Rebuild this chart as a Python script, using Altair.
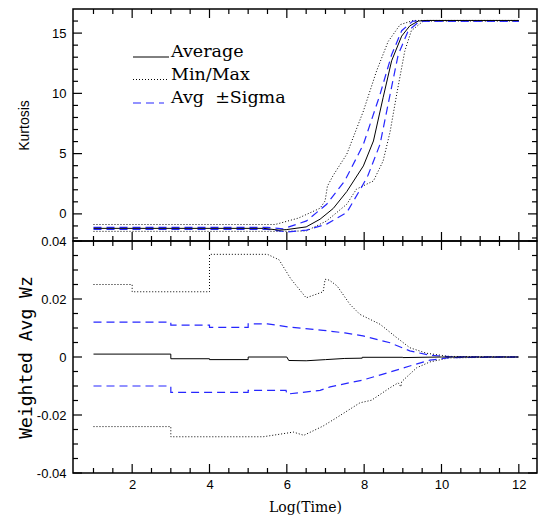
import altair as alt
import pandas as pd

# ---------------- Top panel: Kurtosis ----------------
k_avg_x = [1, 5.4, 5.8, 6.0, 6.5, 6.86, 7.2, 7.55, 7.98, 8.24, 8.49, 8.71, 8.97, 9.18, 9.4, 9.6, 12]
k_avg_y = [-1.2, -1.2, -1.35, -1.3, -1.08, -0.44, 0.45, 1.85, 3.98, 6.05, 9.64, 12.7, 14.75, 15.6, 16.0, 16.05, 16.05]

k_max_x = [1, 5.7, 6.3, 6.86, 6.99, 7.05, 7.2, 7.55, 7.98, 8.32, 8.62, 8.93, 9.27, 12]
k_max_y = [-0.88, -0.88, -0.35, 0.47, 1.08, 2.3, 3.2, 4.95, 8.53, 11.85, 14.3, 15.7, 16.05, 16.05]

k_min_x = [1, 5.9, 6.51, 7.03, 7.55, 7.8, 8.06, 8.24, 8.49, 8.67, 8.84, 9.05, 9.22, 9.53, 12]
k_min_y = [-1.45, -1.45, -1.41, -0.58, 0.8, 2.05, 2.46, 2.73, 4.39, 6.8, 9.9, 13.5, 15.2, 16.0, 16.0]

k_plus_x = [1, 5.5, 5.9, 6.51, 7.03, 7.5, 7.98, 8.41, 8.71, 8.97, 9.26, 12]
k_plus_y = [-1.12, -1.12, -1.25, -0.58, 0.8, 2.75, 5.77, 9.9, 13.2, 15.2, 16.0, 16.0]

k_minus_x = [1, 5.5, 6.0, 6.51, 7.03, 7.55, 7.93, 8.1, 8.41, 8.67, 8.88, 9.14, 9.44, 12]
k_minus_y = [-1.28, -1.28, -1.5, -1.35, -0.85, 0.11, 2.2, 3.2, 5.77, 9.9, 13.2, 15.2, 16.0, 16.0]

# ---------------- Bottom panel: Weighted Avg Wz ----------------
w_avg_x = [1, 3, 3, 4, 4, 5, 5, 6, 6.05, 6.5, 7.0, 7.5, 7.95, 7.95, 9, 9, 10, 12]
w_avg_y = [0.001, 0.001, -0.0006, -0.0006, -0.0009, -0.0009, 0.0, 0.0, -0.0012, -0.0013, -0.0009,
           -0.0005, -0.0004, -0.0001, -0.0001, -0.0002, 0.0, 0.0]

w_max_x = [1, 2, 2, 4, 4, 5.5, 5.8, 6.1, 6.5, 6.94, 6.99, 7.1, 7.3, 7.63, 7.89, 8.41, 8.84, 9.18, 9.61, 10.2, 12]
w_max_y = [0.025, 0.025, 0.0225, 0.0225, 0.0354, 0.0354, 0.0335, 0.027, 0.0204, 0.0225, 0.0268, 0.0265,
           0.0245, 0.0182, 0.0147, 0.0113, 0.0067, 0.0032, 0.0013, 0.0002, 0.0]

w_plus_x = [1, 3, 3, 4, 4, 5, 5, 5.5, 6.08, 6.94, 7.5, 7.97, 8.67, 9.18, 9.7, 10.2, 12]
w_plus_y = [0.012, 0.012, 0.011, 0.011, 0.0102, 0.0102, 0.0114, 0.0114, 0.0103, 0.0092, 0.0083, 0.0073,
            0.0049, 0.0021, 0.0006, 0.0001, 0.0]

w_minus_x = [1, 3, 3, 5, 5, 5.98, 6.0, 6.86, 7.12, 7.98, 8.67, 9.18, 9.7, 10.2, 12]
w_minus_y = [-0.010, -0.010, -0.0122, -0.0122, -0.0115, -0.0115, -0.0128, -0.0115, -0.0103, -0.0079,
             -0.0052, -0.0031, -0.0011, -0.0002, 0.0]

w_min_x = [1, 3, 3, 5.39, 6.17, 6.44, 6.94, 7.29, 7.89, 8.19, 8.67, 8.88, 8.95, 8.97, 9.36, 9.7, 10.2, 12]
w_min_y = [-0.024, -0.024, -0.0275, -0.0275, -0.0259, -0.027, -0.0238, -0.0209, -0.0158, -0.0149,
           -0.0106, -0.0089, -0.0103, -0.0085, -0.0037, -0.0017, -0.0003, 0.0]

# ---------------- Ticks ----------------
x_major = [2, 4, 6, 8, 10, 12]
x_minor = [1, 1.5, 2.5, 3, 3.5, 4.5, 5, 5.5, 6.5, 7, 7.5, 8.5, 9, 9.5, 10.5, 11, 11.5]
k_major = [0, 5, 10, 15]
k_minor = [-2, -1, 1, 2, 3, 4, 6, 7, 8, 9, 11, 12, 13, 14, 16]
w_major = [-0.04, -0.02, 0, 0.02, 0.04]
w_minor = [-0.035, -0.03, -0.025, -0.015, -0.01, -0.005, 0.005, 0.01, 0.015, 0.025, 0.03, 0.035]

legend_labels = ["Average", "Min/Max", "Avg\u00a0\u00a0\u00b1Sigma"]

X_DOM = [0.47, 12.47]
K_DOM = [-2.25, 17.0]
W_DOM = [-0.04, 0.04]

W = 464
H = 232
MAJ = 9
MIN = 5
BLUE = "#2626ff"

SOLID = dict(color="black", strokeWidth=1)
DOTTED = dict(color="black", strokeWidth=1, strokeDash=[1, 2])
DASHED = dict(color=BLUE, strokeWidth=1.2, strokeDash=[8, 5])

XS = alt.Scale(domain=X_DOM, nice=False, zero=False)


def yscale(dom):
    return alt.Scale(domain=dom, nice=False, zero=False)


def line_layer(xs, ys, style, ydom, xax, yax):
    df = pd.DataFrame({"x": xs, "y": ys, "i": list(range(len(xs)))})
    return alt.Chart(df).mark_line(**style).encode(
        x=alt.X("x:Q", scale=XS, axis=xax, title=None),
        y=alt.Y("y:Q", scale=yscale(ydom), axis=yax, title=None),
        order="i:Q",
    )


def tick_rects(ydom, ymaj, ymin, xax, yax):
    """Inward frame ticks as thin filled rectangles, placed through the scales."""
    uy = (ydom[1] - ydom[0]) / H
    ux = (X_DOM[1] - X_DOM[0]) / W
    half = 0.6
    rows = []
    for vals, size in ((x_major, MAJ), (x_minor, MIN)):
        for v in vals:
            rows.append({"x0": v - ux * half, "x1": v + ux * half, "y0": ydom[1], "y1": ydom[1] - uy * size})
            rows.append({"x0": v - ux * half, "x1": v + ux * half, "y0": ydom[0], "y1": ydom[0] + uy * size})
    for vals, size in ((ymaj, MAJ), (ymin, MIN)):
        for v in vals:
            rows.append({"x0": X_DOM[0], "x1": X_DOM[0] + ux * size, "y0": v - uy * half, "y1": v + uy * half})
            rows.append({"x0": X_DOM[1] - ux * size, "x1": X_DOM[1], "y0": v - uy * half, "y1": v + uy * half})
    return alt.Chart(pd.DataFrame(rows)).mark_rect(color="black", opacity=1, strokeWidth=0).encode(
        x=alt.X("x0:Q", scale=XS, axis=xax, title=None),
        x2="x1:Q",
        y=alt.Y("y0:Q", scale=yscale(ydom), axis=yax, title=None),
        y2="y1:Q",
    )


xa_labels = alt.Axis(orient="bottom", values=x_major, ticks=False, domain=False, grid=False,
                     labelPadding=5, labelFontSize=13, labelFont="Liberation Sans", labelColor="black",
                     title="Log(Time)", titleFont="DejaVu Serif", titleFontSize=14,
                     titleFontWeight="normal", titlePadding=9, titleColor="black", format="d")

ka_labels = alt.Axis(orient="left", values=k_major, ticks=False, domain=False, grid=False,
                     labelPadding=7, labelFontSize=13, labelFont="Liberation Sans", labelColor="black",
                     title="Kurtosis", titleFont="Liberation Sans", titleFontSize=14,
                     titleFontWeight="normal", titlePadding=20, titleColor="black", format="d")

wa_labels = alt.Axis(orient="left", values=w_major, ticks=False, domain=False, grid=False,
                     labelPadding=7, labelFontSize=13, labelFont="Liberation Sans", labelColor="black",
                     labelExpr="datum.value == 0 ? '0' : (datum.value < 0 ? '-' : '') + format(abs(datum.value), '.2f')",
                     title="Weighted Avg Wz", titleFont="DejaVu Sans Mono", titleFontSize=18,
                     titleFontWeight="normal", titlePadding=1, titleColor="black")

one = pd.DataFrame({"a": [0]})


def leg_line(style, y, x2):
    return alt.Chart(one).mark_rule(**style).encode(
        x=alt.value(60), x2=alt.value(x2), y=alt.value(y))


def leg_text(label, y):
    return alt.Chart(one).mark_text(align="left", baseline="alphabetic", font="DejaVu Serif",
                                    fontSize=17.5, color="black").encode(
        x=alt.value(98), y=alt.value(y), text=alt.value(label))


def panel(series, xax, ymaj, ymin, ydom, yax):
    layers = [line_layer(xs, ys, st, ydom, xax, yax) for xs, ys, st in series]
    layers.append(tick_rects(ydom, ymaj, ymin, xax, yax))
    return layers


top_layers = panel([
    (k_max_x, k_max_y, DOTTED), (k_min_x, k_min_y, DOTTED),
    (k_plus_x, k_plus_y, DASHED), (k_minus_x, k_minus_y, DASHED),
    (k_avg_x, k_avg_y, SOLID),
], None, k_major, k_minor, K_DOM, ka_labels)
top_layers += [
    leg_line(SOLID, 48, 96), leg_text(legend_labels[0], 48),
    leg_line(DOTTED, 70.5, 96), leg_text(legend_labels[1], 70.5),
    leg_line(DASHED, 94, 91), leg_text(legend_labels[2], 94),
]
top = alt.layer(*top_layers).properties(width=W, height=H)

bot_layers = panel([
    (w_max_x, w_max_y, DOTTED), (w_min_x, w_min_y, DOTTED),
    (w_plus_x, w_plus_y, DASHED), (w_minus_x, w_minus_y, DASHED),
    (w_avg_x, w_avg_y, SOLID),
], xa_labels, w_major, w_minor, W_DOM, wa_labels)
bottom = alt.layer(*bot_layers).properties(width=W, height=H)

chart = alt.vconcat(top, bottom, spacing=0, bounds="flush").properties(
    padding={"left": 8, "top": 0, "right": 0, "bottom": 0}
).configure_view(stroke="black", strokeWidth=1.5).configure_axis(labelColor="black")

chart.save("out.html", embed_options={"renderer": "svg", "actions": False})
